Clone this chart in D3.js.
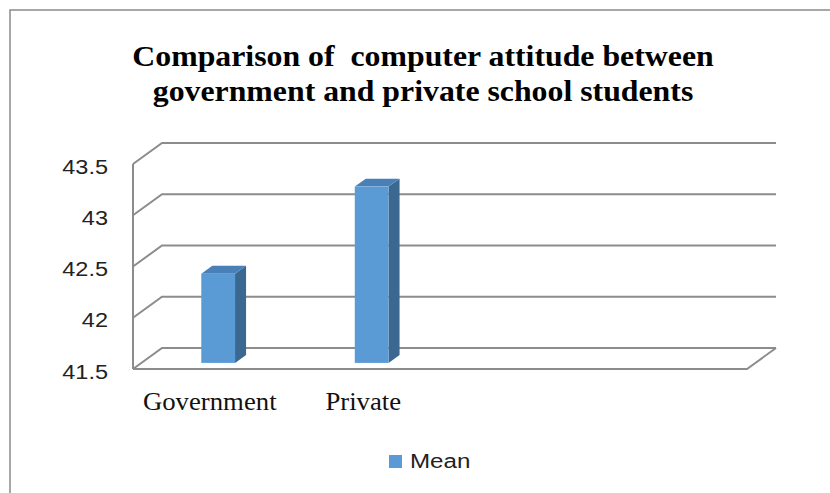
<!DOCTYPE html>
<html><head><meta charset="utf-8">
<script src="https://cdn.jsdelivr.net/npm/d3@7"></script>
<style>body{margin:0;background:#fff}svg{display:block}</style>
</head><body>
<svg id="c" width="830" height="493"></svg>
<script>
const titleLines = ["Comparison of  computer attitude between", "government and private school students"];
const categories = ["Government", "Private"];
const slots = ["Government", "Private", "_3", "_4"];
const meanValues = [42.37, 43.22];
const yTicks = [41.5, 42, 42.5, 43, 43.5];
const seriesName = "Mean";

const svg = d3.select("#c");
svg.append("path").attr("d","M10,493 V10 H830").attr("fill","none").attr("stroke","#8a8a8a").attr("stroke-width",1.5);

const serif = "'Liberation Serif','Times New Roman',serif";
const sans = "'Liberation Sans',Arial,sans-serif";

// title
svg.append("g").selectAll("text").data(titleLines).join("text")
  .attr("transform",(d,i)=>`translate(423,${66+i*35}) scale(1.06,1)`)
  .attr("text-anchor","middle")
  .attr("font-family",serif).attr("font-weight","bold")
  .attr("font-size",30).attr("fill","#000").style("white-space","pre").text(d=>d);

const x0 = 133, x1 = 747;
const DX = 29, DY = -21;
const y = d3.scaleLinear().domain([41.5,43.5]).range([369,164]);
const x = d3.scaleBand().domain(slots).range([x0,x1]).paddingInner(0).paddingOuter(0);

const grid = svg.append("g").attr("stroke","#8c8c8c").attr("stroke-width",2).attr("fill","none");
yTicks.forEach(t=>{
  const yy = y(t);
  grid.append("path").attr("d",`M${x0},${yy} L${x0+DX},${yy+DY} H${x1+DX}`);
});
grid.append("line").attr("x1",x0).attr("x2",x0).attr("y1",y(43.5)).attr("y2",y(41.5));
grid.append("path").attr("d",`M${x0},${y(41.5)} H${x1} L${x1+DX},${y(41.5)+DY}`);

// tick labels
svg.append("g").selectAll("text").data(yTicks).join("text")
  .attr("transform",d=>`translate(108,${y(d)+4}) scale(1.12,1)`)
  .attr("text-anchor","end").attr("dominant-baseline","middle")
  .attr("font-family",sans).attr("font-size",21).attr("fill","#222")
  .text(d=>d);

// bars
const f0 = 0.29, f1 = 0.67;
const bw = x.bandwidth()*0.22;
const bars = svg.append("g");
categories.forEach((c,i)=>{
  const v = meanValues[i];
  const cx = x(c) + x.bandwidth()/2 + f0*DX;
  const L = cx - bw/2, R = cx + bw/2;
  const yb = y(41.5) + f0*DY, yt = y(v) + f0*DY;
  const ddx = (f1-f0)*DX, ddy = (f1-f0)*DY;
  bars.append("path").attr("d",`M${R},${yt} L${R+ddx},${yt+ddy} V${yb+ddy} L${R},${yb} Z`).attr("fill","#3a6891");
  bars.append("path").attr("d",`M${L},${yt} L${L+ddx},${yt+ddy} H${R+ddx} L${R},${yt} Z`).attr("fill","#4a80b8");
  bars.append("rect").attr("x",L).attr("y",yt).attr("width",bw).attr("height",yb-yt).attr("fill","#5b9bd5");
});

// category labels
svg.append("g").selectAll("text").data(categories).join("text")
  .attr("transform",d=>`translate(${x(d)+x.bandwidth()/2},410) scale(1.07,1)`)
  .attr("text-anchor","middle")
  .attr("font-family",serif).attr("font-size",25).attr("fill","#111")
  .text(d=>d);

// legend
const lg = svg.append("g");
lg.append("rect").attr("x",389).attr("y",455).attr("width",13).attr("height",13).attr("fill","#5b9bd5");
lg.append("text").attr("transform","translate(410,468) scale(1.15,1)").attr("font-family",sans)
  .attr("font-size",21).attr("fill","#222").text(seriesName);
</script>
</body></html>
